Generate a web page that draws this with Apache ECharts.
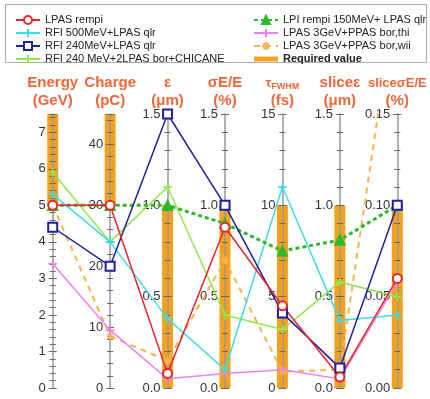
<!DOCTYPE html>
<html>
<head>
<meta charset="utf-8">
<script src="https://cdn.jsdelivr.net/npm/echarts@6/dist/echarts.min.js"></script>
<style>
  html, body { margin: 0; padding: 0; background: #fff; }
  #chart { width: 430px; height: 399px; }
</style>
</head>
<body>
<div id="chart"></div>
<script>
// parameter axes
const axisKeys = ['Energy', 'Charge', 'eps', 'sigmaE', 'tau', 'sliceEps', 'sliceSigmaE']
const axisNames = [
  'Energy\n(GeV)',
  'Charge\n(pC)',
  'ε\n(μm)',
  'σE/E\n(%)',
  '{tau|τ}{sub|FWHM}\n(fs)',
  'sliceε\n(μm)',
  '{sm|sliceσE/E}\n(%)'
]
const axisMax = [7.5, 45, 1.5, 1.5, 15, 1.5, 0.15]
const axisStep = [1, 10, 0.5, 0.5, 5, 0.5, 0.05]
const labelDigits = [0, 0, 1, 1, 0, 1, 2]

// required value ranges (orange bars)
const reqLow = [5, 30, 0, 0, 0, 0, 0]
const reqHigh = [7.5, 45, 1.0, 1.0, 10, 1.0, 0.10]

// cases
const lpasRempi = [5.0, 30, 0.08, 0.88, 4.5, 0.06, 0.060]
const rfi500 = [5.3, 24, 0.38, 0.10, 11.0, 0.37, 0.040]
const rfi240 = [4.4, 20, 1.5, 1.0, 4.1, 0.11, 0.100]
const rfi240Chicane = [5.9, 24, 1.1, 0.40, 3.2, 0.58, 0.050]
const lpiRempi = [5.0, 30, 1.0, 0.90, 7.5, 0.81, 0.100]
const lpasThi = [3.4, 9.5, 0.05, 0.08, 1.0, 0.05, 0.058]
const lpasWii = [5.0, 8.5, 0.15, 0.70, 0.9, 0.10, 0.220]

const gridLeft = 24
const gridRight = 4
const bandW = (430 - gridLeft - gridRight) / axisKeys.length

const plusSym = 'path://M5,0V10M0,5H10'
const starSym = 'path://M5,0V10M0,5H10M1.5,1.5L8.5,8.5M8.5,1.5L1.5,8.5'

// values are drawn against a hidden 0..1 axis, each scaled by its own parameter axis
function norm(vals) {
  return vals.map((v, i) => v / axisMax[i])
}

function makeLine(name, vals, color, symbol, size, lineType, width) {
  return {
    name: name,
    type: 'line',
    data: norm(vals),
    symbol: symbol,
    symbolSize: size,
    z: 3,
    lineStyle: { color: color, width: width, type: lineType },
    itemStyle: { color: color, borderColor: color, borderWidth: 1.5 }
  }
}

const yAxes = [{ type: 'value', min: 0, max: 1, show: false }]
axisKeys.forEach((k, i) => {
  const step = axisStep[i]
  const base = {
    type: 'value',
    position: 'left',
    offset: -(i + 0.5) * bandW,
    min: 0,
    max: axisMax[i],
    interval: step,
    splitLine: { show: false },
    z: 1
  }
  // labelled axis, ticks on the left
  yAxes.push(Object.assign({}, base, {
    name: axisNames[i],
    nameLocation: 'end',
    nameGap: 4,
    nameMoveOverlap: false,
    nameTextStyle: {
      color: '#f0663a',
      fontSize: 15,
      fontWeight: 'bold',
      fontFamily: 'Liberation Sans',
      lineHeight: 18,
      align: 'center',
      rich: {
        tau: { color: '#f0663a', fontSize: 13, fontWeight: 'bold', fontFamily: 'Liberation Sans', lineHeight: 18 },
        sub: { color: '#f0663a', fontSize: 9, fontWeight: 'bold', fontFamily: 'Liberation Sans', lineHeight: 18, padding: [8, 0, 0, 0] },
        sm: { color: '#f0663a', fontSize: 13, fontWeight: 'bold', fontFamily: 'Liberation Sans', lineHeight: 18 }
      }
    },
    axisLine: { show: true, lineStyle: { color: '#999', width: 1.5 } },
    axisTick: { show: true, length: 4, lineStyle: { color: '#666' } },
    minorTick: { show: true, splitNumber: 5, length: 3, lineStyle: { color: '#666' } },
    axisLabel: {
      margin: 7,
      fontSize: 13,
      color: '#333',
      fontFamily: 'Liberation Sans',
      formatter: v => Math.abs(v / step - Math.round(v / step)) < 1e-6 ? v.toFixed(labelDigits[i]) : ''
    }
  }))
  // twin axis for the right half of the ticks
  yAxes.push(Object.assign({}, base, {
    axisLine: { show: false },
    axisTick: { show: true, inside: true, length: 4, lineStyle: { color: '#666' } },
    minorTick: { show: true, splitNumber: 5, length: 3, lineStyle: { color: '#666' } },
    axisLabel: { show: false }
  }))
})

const legendText = { fontSize: 11, color: '#222', fontFamily: 'Liberation Sans', lineHeight: 13 }

const option = {
  animation: false,
  backgroundColor: '#fff',
  graphic: [{
    type: 'rect',
    z: 0,
    shape: { x: 5.5, y: 4.5, width: 421, height: 58 },
    style: { fill: '#fff', stroke: '#aaa', lineWidth: 1 }
  }],
  legend: [{
    orient: 'vertical',
    left: 10,
    top: 8.5,
    itemGap: 0,
    itemWidth: 24,
    itemHeight: 10,
    textStyle: legendText,
    data: ['LPAS rempi', 'RFI 500MeV+LPAS qlr', 'RFI 240MeV+LPAS qlr', 'RFI 240 MeV+2LPAS bor+CHICANE']
  }, {
    orient: 'vertical',
    left: 248,
    top: 8.5,
    itemGap: 0,
    itemWidth: 24,
    itemHeight: 10,
    textStyle: legendText,
    data: [
      'LPI rempi 150MeV+ LPAS qlr',
      'LPAS 3GeV+PPAS bor,thi',
      'LPAS 3GeV+PPAS bor,wii',
      { name: 'Required value', icon: 'path://M0,0H25V5H0Z', textStyle: { fontWeight: 'bold' } }
    ]
  }],
  grid: {
    left: gridLeft,
    right: gridRight,
    top: 114,
    bottom: 11,
    containLabel: false,
    outerBoundsMode: 'none'
  },
  xAxis: {
    type: 'category',
    data: axisKeys,
    boundaryGap: true,
    show: false
  },
  yAxis: yAxes,
  series: [
    {
      name: 'Required value',
      type: 'custom',
      z: 0,
      itemStyle: { color: '#f5a11c' },
      encode: { x: 0, y: [1, 2] },
      data: axisKeys.map((k, i) => [i, reqLow[i] / axisMax[i], reqHigh[i] / axisMax[i]]),
      renderItem: function (params, api) {
        const lo = api.coord([api.value(0), api.value(1)])
        const hi = api.coord([api.value(0), api.value(2)])
        return {
          type: 'rect',
          shape: { x: lo[0] - 5.5, y: hi[1], width: 11, height: lo[1] - hi[1] },
          style: { fill: '#f5a11c' }
        }
      }
    },
    makeLine('LPAS 3GeV+PPAS bor,wii', lpasWii, '#f6b54c', starSym, 8, [6, 5], 2),
    makeLine('LPAS 3GeV+PPAS bor,thi', lpasThi, '#ee80ee', plusSym, 9, 'solid', 1.5),
    makeLine('RFI 240 MeV+2LPAS bor+CHICANE', rfi240Chicane, '#8ee84a', plusSym, 9, 'solid', 1.5),
    makeLine('RFI 500MeV+LPAS qlr', rfi500, '#3edbe6', plusSym, 9, 'solid', 1.5),
    makeLine('LPI rempi 150MeV+ LPAS qlr', lpiRempi, '#2eb82e', 'triangle', 10, [4, 3], 3),
    makeLine('RFI 240MeV+LPAS qlr', rfi240, '#1f1fa0', 'emptyRect', 9, 'solid', 1.5),
    makeLine('LPAS rempi', lpasRempi, '#e5262b', 'emptyCircle', 9, 'solid', 1.5)
  ]
}

const chart = echarts.init(document.getElementById('chart'), null, { renderer: 'canvas' })
chart.setOption(option)
</script>
</body>
</html>
